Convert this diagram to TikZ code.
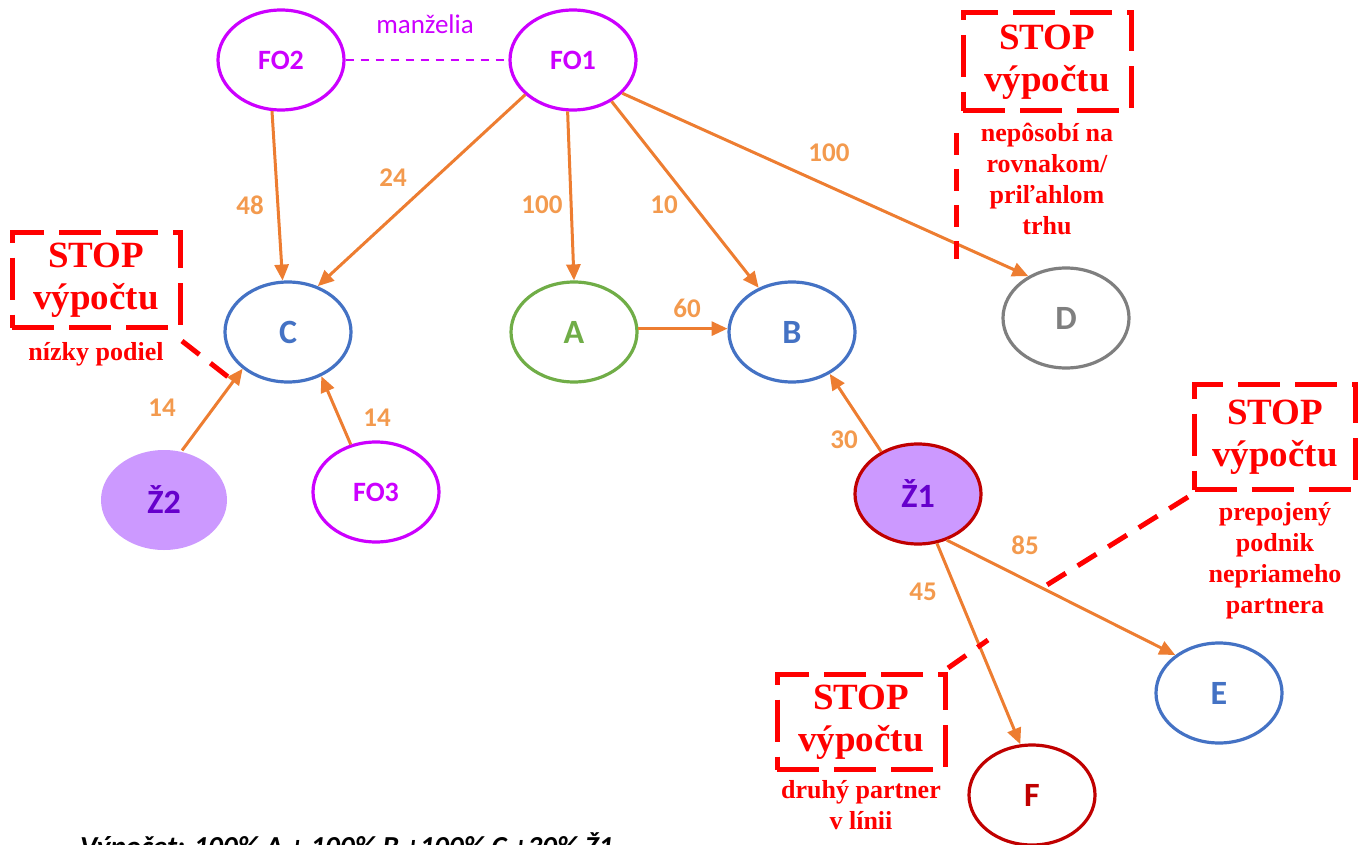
\documentclass[tikz,border=0pt]{standalone}
\usepackage{fontspec}
\setmainfont{Liberation Serif}
\setsansfont{Carlito}
\usetikzlibrary{arrows.meta,positioning,shapes.geometric}
\definecolor{flowc}{HTML}{ED7D31}
\definecolor{pctc}{HTML}{F39A4E}
\definecolor{fopurple}{HTML}{CC00FF}
\definecolor{firmblue}{HTML}{4472C4}
\definecolor{firmgreen}{HTML}{70AD47}
\definecolor{firmgray}{HTML}{7F7F7F}
\definecolor{darkred}{HTML}{C00000}
\definecolor{lilac}{HTML}{CC99FF}
\definecolor{zviolet}{HTML}{6600CC}
\definecolor{stopred}{HTML}{FF0000}
\tikzset{
  firm/.style={ellipse, draw, line width=3.2pt, minimum width=126pt, minimum height=100pt,
    inner sep=0pt, font=\fontsize{34}{34}\sffamily\bfseries},
  person/.style={firm, draw=fopurple, text=fopurple, font=\fontsize{28}{28}\sffamily\bfseries},
  entr/.style={firm, fill=lilac, text=zviolet},
  flow/.style={draw=flowc, line width=3pt, -{Triangle[length=16pt,width=14pt]}},
  pct/.style={text=pctc, font=\fontsize{27}{27}\sffamily\bfseries},
  stopbox/.style={draw=stopred, line width=5pt, dash pattern=on 42pt off 15pt, text=stopred,
    align=center, inner sep=0pt, font=\fontsize{37}{42}\bfseries},
  stopnote/.style={text=stopred, align=center, inner sep=0pt, font=\fontsize{26}{31}\bfseries},
  leader/.style={draw=stopred, line width=5pt, dash pattern=on 22pt off 14pt}
}
\begin{document}
\begin{tikzpicture}[x=1pt,y=-1pt]
  \useasboundingbox (0,0) rectangle (1372,845);
  % firms and persons
  \node[person] (fo2) at (281,60) {FO2};
  \node[person] (fo1) at (573,60) {FO1};
  \node[person] (fo3) at (376,492) {FO3};
  \node[firm, draw=firmblue, text=firmblue] (c) at (288,332) {C};
  \node[firm, draw=firmgreen, text=firmgreen] (a) at (574,332) {A};
  \node[firm, draw=firmblue, text=firmblue] (b) at (792,332) {B};
  \node[firm, draw=firmgray, text=firmgray] (d) at (1066,318) {D};
  \node[firm, draw=firmblue, text=firmblue] (e) at (1219,693) {E};
  \node[firm, draw=darkred, text=darkred] (f) at (1032,795) {F};
  \node[entr, draw=none] (z2) at (164,500) {Ž2};
  \node[entr, draw=darkred] (z1) at (918,494) {Ž1};

  \draw[fopurple, line width=2pt, dash pattern=on 8pt off 7pt] (fo2.east) to (fo1.west);
  \node[text=fopurple, font=\fontsize{27}{27}\sffamily] (spouses) at (425,24) {manželia};

  \begin{scope}[flow]
    \draw (fo2.-100) to (c.96);
    \draw (fo1.216) to (c.57);
    \draw (fo1.-96) to (a.90);
    \draw (fo1.-47) to (b.127);
    \draw (fo1.-34) to (d.132);
    \draw (a.3) to (b.177);
    \draw (z2.70) to (c.219);
    \draw (fo3.118) to (c.-53);
    \draw (z1.131) to (b.-48);
    \draw (z1.-69) to (f.103);
    \draw (z1.-58) to (e.139);
  \end{scope}

  \node[pct] (p48) at (250,205) {48};
  \node[pct] (p24) at (393,178) {24};
  \node[pct] (p100a) at (542,205) {100};
  \node[pct] (p10) at (664,205) {10};
  \node[pct] (p100d) at (829,153) {100};
  \node[pct] (p60) at (687,308) {60};
  \node[pct] (p14a) at (162,408) {14};
  \node[pct] (p14b) at (377,418) {14};
  \node[pct] (p30) at (844,440) {30};
  \node[pct] (p45) at (923,592) {45};
  \node[pct] (p85) at (1025,545) {85};

  % stop boxes
  \node[stopbox, minimum width=168pt, minimum height=95pt] (stopc) at (96,280) {STOP\\výpočtu};
  \node[stopnote, below=12pt of stopc] (notec) {nízky podiel};
  \node[stopbox, minimum width=168pt, minimum height=98pt] (stopd) at (1047,62) {STOP\\výpočtu};
  \node[stopnote, below=9pt of stopd] (noted) {nepôsobí na\\rovnakom/\\priľahlom\\trhu};
  \node[stopbox, minimum width=161pt, minimum height=105pt] (stope) at (1275,437) {STOP\\výpočtu};
  \node[stopnote, below=10pt of stope] (notee) {prepojený\\podnik\\nepriameho\\partnera};
  \node[stopbox, minimum width=168pt, minimum height=95pt] (stopf) at (861,722) {STOP\\výpočtu};
  \node[stopnote, below=8pt of stopf] (notef) {druhý partner\\v línii};

  \coordinate (kc1) at (182,341);
  \coordinate (kc2) at (232,380);
  \coordinate (kd1) at (956,133);
  \coordinate (kd2) at (956,259);
  \coordinate (ke1) at (1188,497);
  \coordinate (ke2) at (1042,588);
  \coordinate (kf1) at (948,668);
  \coordinate (kf2) at (988,640);
  \draw[leader] (kc1) -- (kc2);
  \draw[leader] (kd1) -- (kd2);
  \draw[leader] (ke1) -- (ke2);
  \draw[leader] (kf1) -- (kf2);

  \node[anchor=base west, inner sep=0pt, font=\fontsize{29}{29}\sffamily\bfseries\itshape] (calc)
    at (80,856) {Výpočet: 100\% A + 100\% B +100\% C +30\% Ž1};
\end{tikzpicture}
\end{document}
